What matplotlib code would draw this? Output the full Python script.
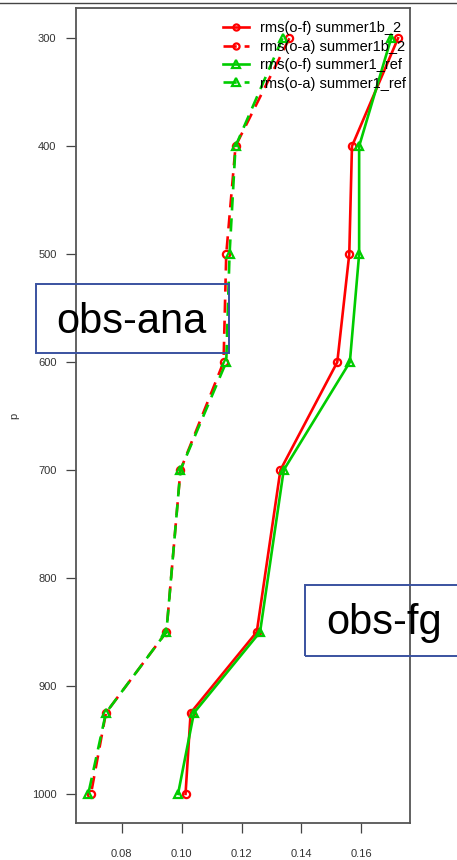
import matplotlib.pyplot as plt
from matplotlib.lines import Line2D
from matplotlib.patches import Rectangle

plt.rcParams['font.family'] = ['Liberation Sans', 'DejaVu Sans']

p = [300, 400, 500, 600, 700, 850, 925, 1000]

# rms of obs minus first guess / obs minus analysis
of_summer1b_2 = [0.1723, 0.1569, 0.1560, 0.1520, 0.1330, 0.1251, 0.1030, 0.1013]
oa_summer1b_2 = [0.1360, 0.1180, 0.1149, 0.1140, 0.0996, 0.0949, 0.0747, 0.0697]
of_summer1_ref = [0.1700, 0.1593, 0.1593, 0.1562, 0.1341, 0.1262, 0.1041, 0.0988]
oa_summer1_ref = [0.1337, 0.1180, 0.1160, 0.1149, 0.0996, 0.0949, 0.0747, 0.0688]

labels = ['rms(o-f) summer1b_2', 'rms(o-a) summer1b_2',
          'rms(o-f) summer1_ref', 'rms(o-a) summer1_ref']
xticks = [0.08, 0.10, 0.12, 0.14, 0.16]
yticks = [300, 400, 500, 600, 700, 800, 900, 1000]

red = '#ff0000'
green = '#00cc00'

fig = plt.figure(figsize=(4.57, 8.60), dpi=100)
ax = fig.add_axes([0.1663, 0.043, 0.7309, 0.9477])

lw = 1.9
ms = 5.2
dash = (0, (5, 3))
ax.plot(of_summer1b_2, p, color=red, lw=lw, marker='o', ms=ms,
        mfc='none', mew=1.6, label=labels[0])
ax.plot(oa_summer1b_2, p, color=red, lw=lw, ls=dash, marker='o', ms=ms,
        mfc='none', mew=1.6, label=labels[1])
ax.plot(of_summer1_ref, p, color=green, lw=lw, marker='^', ms=ms + 1,
        mfc='none', mew=1.6, label=labels[2])
ax.plot(oa_summer1_ref, p, color=green, lw=lw, ls=dash, marker='^', ms=ms + 1,
        mfc='none', mew=1.6, label=labels[3])

ax.set_xlim(0.0647, 0.1763)
ax.set_ylim(1027, 272)
ax.set_xticks(xticks)
ax.set_xticklabels(['%.2f' % v for v in xticks])
ax.set_yticks(yticks)
ax.tick_params(axis='both', direction='out', length=7, width=0.9,
               labelsize=8, color='#444444', labelcolor='#333333')
ax.tick_params(axis='x', pad=12)
ax.tick_params(axis='y', pad=7)
for s in ax.spines.values():
    s.set_color('#555555')
    s.set_linewidth(1.3)
ax.set_ylabel('p', fontsize=8, color='#333333', labelpad=9)

leg = ax.legend(loc='upper right', bbox_to_anchor=(1.022, 0.997), frameon=False,
                fontsize=10.5, handlelength=1.8, handletextpad=0.8,
                labelspacing=0.3, borderaxespad=0.0, borderpad=0.75,
                markerscale=0.85)

# boxed labels for the two groups of curves
for x0, y0, w, h in [(0.0788, 0.5895, 0.4223, 0.0802),
                     (0.6674, 0.2372, 0.36, 0.0826)]:
    fig.add_artist(Rectangle((x0, y0), w, h, transform=fig.transFigure,
                             fill=False, ec='#3a52a0', lw=1.4))
fig.text(0.2877, 0.626, 'obs-ana', fontsize=30, ha='center', va='center')
fig.text(0.840, 0.2756, 'obs-fg', fontsize=30, ha='center', va='center')

# thin rule along the top edge
fig.add_artist(Line2D([0, 1], [0.9965, 0.9965], color='#444444', lw=1.0))

fig.savefig('out.png', dpi=100)
